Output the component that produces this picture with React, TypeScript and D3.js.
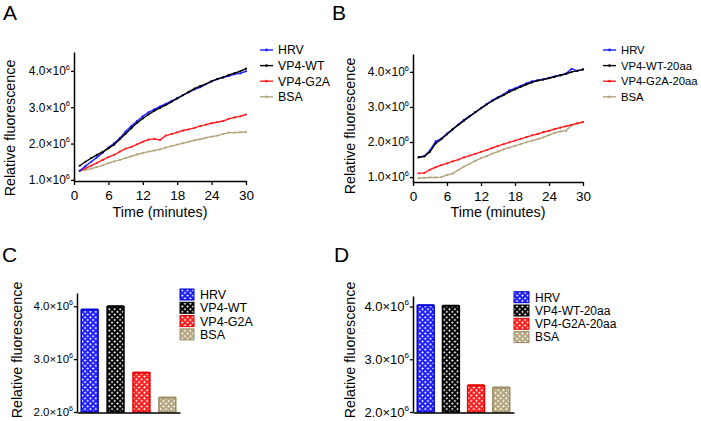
import { useEffect, useRef } from 'react';
import * as d3 from 'd3';

const FONT = '"Liberation Sans", Arial, Helvetica, sans-serif';

// time points (minutes)
const minutes = [1, 2, 3, 4, 5, 6, 7, 8, 9, 10, 11, 12, 13, 14, 15, 16, 17, 18, 19, 20, 21, 22, 23, 24, 25, 26, 27, 28, 29, 30];
const xTicks = [0, 6, 12, 18, 24, 30];
const lineYTicks = [1, 2, 3, 4];
const barYTicks = [2, 3, 4];

// panel A (values in units of 10^6)
const hrvA = [1.25, 1.38, 1.5, 1.62, 1.75, 1.89, 2.01, 2.15, 2.33, 2.48, 2.62, 2.75, 2.86, 2.94, 3.02, 3.09, 3.17, 3.25, 3.33, 3.41, 3.49, 3.55, 3.63, 3.72, 3.77, 3.82, 3.86, 3.91, 3.93, 3.99];
const wtA = [1.39, 1.5, 1.6, 1.69, 1.77, 1.87, 1.97, 2.12, 2.27, 2.42, 2.57, 2.69, 2.8, 2.9, 2.98, 3.06, 3.15, 3.24, 3.33, 3.42, 3.51, 3.58, 3.64, 3.71, 3.78, 3.82, 3.89, 3.94, 3.99, 4.06];
const g2aA = [1.25, 1.32, 1.39, 1.47, 1.55, 1.63, 1.69, 1.78, 1.86, 1.91, 1.98, 2.05, 2.11, 2.13, 2.1, 2.22, 2.26, 2.31, 2.36, 2.39, 2.43, 2.48, 2.52, 2.56, 2.59, 2.62, 2.68, 2.72, 2.75, 2.8];
const bsaA = [1.25, 1.28, 1.31, 1.35, 1.4, 1.46, 1.51, 1.55, 1.6, 1.65, 1.7, 1.74, 1.78, 1.81, 1.84, 1.89, 1.93, 1.97, 2.01, 2.05, 2.09, 2.12, 2.16, 2.19, 2.22, 2.26, 2.3, 2.3, 2.31, 2.32];

// panel B
const hrvB = [1.57, 1.6, 1.76, 2.02, 2.1, 2.24, 2.37, 2.5, 2.63, 2.74, 2.85, 2.97, 3.08, 3.19, 3.28, 3.36, 3.47, 3.53, 3.6, 3.67, 3.73, 3.76, 3.79, 3.83, 3.87, 3.91, 3.95, 4.09, 4.03, 4.07];
const wtB = [1.56, 1.59, 1.72, 1.96, 2.08, 2.22, 2.36, 2.49, 2.61, 2.73, 2.85, 2.96, 3.07, 3.17, 3.26, 3.34, 3.43, 3.5, 3.57, 3.64, 3.7, 3.75, 3.78, 3.82, 3.86, 3.9, 3.94, 4.0, 4.03, 4.07];
const g2aB = [1.11, 1.12, 1.21, 1.28, 1.34, 1.39, 1.45, 1.5, 1.56, 1.61, 1.66, 1.72, 1.77, 1.83, 1.89, 1.94, 1.99, 2.04, 2.09, 2.14, 2.19, 2.23, 2.28, 2.32, 2.37, 2.41, 2.45, 2.49, 2.53, 2.57];
const bsaB = [0.97, 0.98, 0.99, 0.99, 1.0, 1.06, 1.1, 1.2, 1.3, 1.38, 1.46, 1.54, 1.6, 1.67, 1.73, 1.79, 1.84, 1.89, 1.94, 1.99, 2.04, 2.08, 2.13, 2.2, 2.26, 2.3, 2.32, 2.48, 2.53, 2.57];

// panels C and D (bars)
const barValuesC = [3.93, 3.99, 2.74, 2.27];
const barErrorsC = [0.012, 0.015, 0.01, 0.008];
const barValuesD = [4.02, 4.01, 2.5, 2.46];
const barErrorsD = [0.01, 0.01, 0.012, 0.01];

const namesAC = ['HRV', 'VP4-WT', 'VP4-G2A', 'BSA'];
const namesBD = ['HRV', 'VP4-WT-20aa', 'VP4-G2A-20aa', 'BSA'];
const colors = ['#1c1cff', '#000000', '#ff1c1c', '#b3a67e'];
const strokes = ['#0000d0', '#000000', '#e00000', '#9a8c62'];

const sciLabel = (text: any, v: number, size: number) => {
  text.append('tspan').text(`${v.toFixed(1)}×10`);
  text.append('tspan').attr('font-size', size * 0.62).attr('dy', -size * 0.45).text('6');
};

const drawLinePanel = (svg: any, cfg: any) => {
  const { left, right, top, bottom, yDomain, series, names, legendX, legendY, tickFont, legendFont } = cfg;
  const x = d3.scaleLinear().domain([0, 30]).range([left, right]);
  const y = d3.scaleLinear().domain(yDomain).range([bottom, top]);
  const g = svg.append('g');

  const xAxis = g.append('g').attr('transform', `translate(0,${bottom})`)
    .call(d3.axisBottom(x).tickValues(xTicks).tickSize(4).tickSizeOuter(0));
  xAxis.selectAll('text').attr('font-size', 13.5).attr('font-family', FONT).attr('dy', '0.9em');
  const yAxis = g.append('g').attr('transform', `translate(${left},0)`)
    .call(d3.axisLeft(y).tickValues(lineYTicks).tickSize(3).tickSizeOuter(0).tickFormat(() => ''));
  [xAxis, yAxis].forEach((a) => {
    a.select('.domain').attr('stroke-width', 1.5);
    a.selectAll('line').attr('stroke-width', 1.3);
  });

  lineYTicks.forEach((v) => {
    const t = g.append('text').attr('x', left - 4).attr('y', y(v) + tickFont * 0.36)
      .attr('text-anchor', 'end').attr('font-size', tickFont).attr('font-family', FONT);
    sciLabel(t, v, tickFont);
  });

  const line = d3.line<number>().x((_, i) => x(minutes[i])).y((d) => y(d));
  const order = [3, 2, 0, 1];
  order.forEach((k) => {
    g.append('path').attr('d', line(series[k])).attr('fill', 'none')
      .attr('stroke', colors[k]).attr('stroke-width', 1.4);
    g.append('g').selectAll('circle').data(series[k]).enter().append('circle')
      .attr('cx', (_: number, i: number) => x(minutes[i])).attr('cy', (d: number) => y(d))
      .attr('r', 1.1).attr('fill', colors[k]);
  });

  names.forEach((n: string, i: number) => {
    const ry = legendY + i * 15.6;
    g.append('line').attr('x1', legendX).attr('x2', legendX + 13).attr('y1', ry).attr('y2', ry)
      .attr('stroke', colors[i]).attr('stroke-width', 1.4);
    g.append('circle').attr('cx', legendX + 6.5).attr('cy', ry).attr('r', 1.4).attr('fill', colors[i]);
    g.append('text').attr('x', legendX + 18).attr('y', ry + legendFont * 0.36).attr('font-size', legendFont)
      .attr('font-family', FONT).text(n);
  });

  g.append('text').attr('x', (left + right) / 2).attr('y', 217).attr('text-anchor', 'middle')
    .attr('font-size', 14.3).attr('font-family', FONT).text('Time (minutes)');
};

const drawBarPanel = (svg: any, cfg: any) => {
  const { left, right, top, bottom, yDomain, values, errors, names, pInner, pOuter, legendX, legendY, swW, tickFont, legendFont } = cfg;
  const x = d3.scaleBand().domain(names).range([left, right]).paddingInner(pInner).paddingOuter(pOuter);
  const y = d3.scaleLinear().domain(yDomain).range([bottom, top]);
  const g = svg.append('g');

  values.forEach((v: number, i: number) => {
    const bx = x(names[i]) as number;
    g.append('rect').attr('x', bx + 0.75).attr('y', y(v)).attr('width', x.bandwidth() - 1.5)
      .attr('height', y(yDomain[0]) - y(v)).attr('fill', `url(#dots${i})`)
      .attr('stroke', strokes[i]).attr('stroke-width', 1.5);
    g.append('line').attr('x1', bx + 1).attr('x2', bx + x.bandwidth() - 1)
      .attr('y1', y(v + errors[i])).attr('y2', y(v + errors[i])).attr('stroke', strokes[i]).attr('stroke-width', 1.5);
    g.append('line').attr('x1', bx + x.bandwidth() / 2).attr('x2', bx + x.bandwidth() / 2)
      .attr('y1', y(v)).attr('y2', y(v + errors[i])).attr('stroke', strokes[i]).attr('stroke-width', 1.2);
  });

  const xAxis = g.append('g').attr('transform', `translate(0,${bottom + 0.5})`)
    .call(d3.axisBottom(x).tickSize(0).tickSizeOuter(0).tickFormat(() => ''));
  const yAxis = g.append('g').attr('transform', `translate(${left},0)`)
    .call(d3.axisLeft(y).tickValues(barYTicks).tickSize(3).tickSizeOuter(0).tickFormat(() => ''));
  [xAxis, yAxis].forEach((a) => {
    a.select('.domain').attr('stroke-width', 1.5);
    a.selectAll('line').attr('stroke-width', 1.3);
  });
  barYTicks.forEach((v) => {
    const t = g.append('text').attr('x', left - 4).attr('y', y(v) + tickFont * 0.36)
      .attr('text-anchor', 'end').attr('font-size', tickFont).attr('font-family', FONT);
    sciLabel(t, v, tickFont);
  });

  names.forEach((n: string, i: number) => {
    const ry = legendY + i * 13.3;
    g.append('rect').attr('x', legendX).attr('y', ry).attr('width', swW).attr('height', 11)
      .attr('fill', `url(#dots${i})`).attr('stroke', strokes[i]).attr('stroke-width', 1);
    g.append('text').attr('x', legendX + swW + 6).attr('y', ry + 5.5 + legendFont * 0.36).attr('font-size', legendFont)
      .attr('font-family', FONT).text(n);
  });
};

const App = () => {
  const svgRef = useRef<SVGSVGElement>(null);

  useEffect(() => {
    const svg = d3.select(svgRef.current);
    svg.selectAll('*').remove();

    const defs = svg.append('defs');
    colors.forEach((c, i) => {
      const p = defs.append('pattern').attr('id', `dots${i}`).attr('patternUnits', 'userSpaceOnUse')
        .attr('width', 5.4).attr('height', 5.4);
      p.append('rect').attr('width', 5.4).attr('height', 5.4).attr('fill', c);
      [[1.35, 1.35], [4.05, 4.05]].forEach(([cx, cy]) => {
        p.append('rect').attr('x', cx - 1.1).attr('y', cy - 0.45).attr('width', 2.2).attr('height', 0.9).attr('fill', '#fff');
        p.append('rect').attr('x', cx - 0.45).attr('y', cy - 1.1).attr('width', 0.9).attr('height', 2.2).attr('fill', '#fff');
      });
    });

    drawLinePanel(svg, {
      left: 74, right: 246, top: 52, bottom: 181, yDomain: [0.97, 4.52],
      series: [hrvA, wtA, g2aA, bsaA], names: namesAC, legendX: 260, legendY: 50, tickFont: 12, legendFont: 12.3,
    });
    drawLinePanel(svg, {
      left: 413, right: 583, top: 54, bottom: 182, yDomain: [0.86, 4.51],
      series: [hrvB, wtB, g2aB, bsaB], names: namesBD, legendX: 603, legendY: 50, tickFont: 12, legendFont: 11.3,
    });
    drawBarPanel(svg, {
      left: 77, right: 180, top: 293, bottom: 412, yDomain: [2, 4.25], values: barValuesC, errors: barErrorsC,
      names: namesAC, pInner: 0.29, pOuter: 0.133, legendX: 180, legendY: 289, swW: 14, tickFont: 11.5, legendFont: 12.5,
    });
    drawBarPanel(svg, {
      left: 413, right: 514, top: 296, bottom: 412, yDomain: [2, 4.2], values: barValuesD, errors: barErrorsD,
      names: namesBD, pInner: 0.27, pOuter: 0.14, legendX: 514, legendY: 291.7, swW: 15, tickFont: 13, legendFont: 12,
    });

    // y axis titles
    [[14.5, 128], [354.5, 126], [21.5, 350], [354.5, 350]].forEach(([tx, ty]) => {
      svg.append('text').attr('transform', `translate(${tx},${ty}) rotate(-90)`).attr('text-anchor', 'middle')
        .attr('font-size', 14.3).attr('font-family', FONT).text('Relative fluorescence');
    });

    // panel letters
    [['A', 3, 20], ['B', 332, 20], ['C', 2, 262], ['D', 334, 262]].forEach(([l, lx, ly]) => {
      svg.append('text').attr('x', lx as number).attr('y', ly as number).attr('font-size', 21)
        .attr('font-family', FONT).text(l as string);
    });
  }, []);

  return (
    <svg ref={svgRef} width={701} height={421} style={{ position: 'absolute', left: 0, top: 0, background: '#fff' }} />
  );
};

export default App;
